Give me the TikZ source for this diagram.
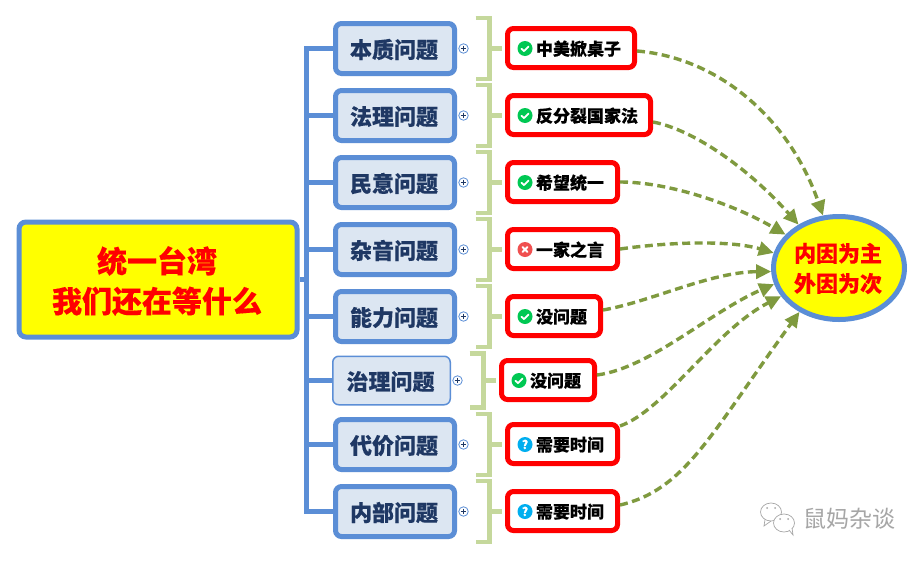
\documentclass[tikz,border=0pt]{standalone}
\usepackage{fontspec}
\setmainfont{Noto Sans CJK SC}[BoldFeatures={FakeBold=0.25}]
\usetikzlibrary{arrows.meta,shapes.geometric,calc}
\definecolor{frameblue}{HTML}{5B8ED6}
\definecolor{topicfill}{HTML}{DCE6F2}
\definecolor{topicink}{HTML}{1F3864}
\definecolor{brace}{HTML}{C5D89C}
\definecolor{olive}{HTML}{7F9A3F}
\definecolor{okgreen}{HTML}{00C853}
\definecolor{askblue}{HTML}{00AEEF}
\definecolor{badred}{HTML}{F05050}
\definecolor{wm}{HTML}{A6A6A6}
\definecolor{sun}{RGB}{255,255,0}
\definecolor{alarm}{RGB}{255,0,0}
\tikzset{
  rootbox/.style={draw=frameblue,fill=sun,line width=5,rounded corners=7,minimum width=278,minimum height=115,align=center,text=alarm,font=\fontsize{30}{40}\selectfont\bfseries,inner sep=0},
  topicbox/.style={draw=frameblue,fill=topicfill,line width=5,rounded corners=6,minimum width=119,minimum height=50,text=topicink,font=\fontsize{22}{26}\selectfont\bfseries,inner sep=0},
  thintopic/.style={topicbox,line width=1.5,minimum width=117.5,minimum height=48.5},
  redbox/.style={draw=alarm,fill=white,line width=5,rounded corners=6,minimum height=39,font=\fontsize{17}{20}\selectfont\bfseries,text=black,inner sep=0},
  causeoval/.style={ellipse,draw=frameblue,fill=sun,line width=5,minimum width=131,minimum height=103,align=center,text=alarm,font=\fontsize{22}{30}\selectfont\bfseries,inner sep=0},
  trunk/.style={draw=frameblue,line width=5},
  bracket/.style={draw=brace,line width=4.5},
  influence/.style={draw=olive,line width=3.4,dash pattern=on 8pt off 4.5pt,-{Triangle[length=15pt,width=14pt]}},
  expander/.style={circle,draw=frameblue,fill=white,line width=.8,minimum size=9.5,inner sep=0,
    path picture={\draw[topicink,line width=.8] ($(path picture bounding box.center)+(-2.8,0)$) -- ($(path picture bounding box.center)+(2.8,0)$)
      ($(path picture bounding box.center)+(0,-2.8)$) -- ($(path picture bounding box.center)+(0,2.8)$);}},
  okicon/.style={circle,fill=okgreen,minimum size=15,inner sep=0,
    path picture={\draw[white,line width=1.8,line cap=round,line join=round] ($(path picture bounding box.center)+(-3.6,.2)$) -- ($(path picture bounding box.center)+(-1,2.6)$) -- ($(path picture bounding box.center)+(3.6,-2)$);}},
  badicon/.style={circle,fill=badred,minimum size=15,inner sep=0,
    path picture={\draw[white,line width=1.8,line cap=round] ($(path picture bounding box.center)+(-2.6,-2.6)$) -- ($(path picture bounding box.center)+(2.6,2.6)$)
      ($(path picture bounding box.center)+(-2.6,2.6)$) -- ($(path picture bounding box.center)+(2.6,-2.6)$);}},
  askicon/.style={circle,fill=askblue,minimum size=15,inner sep=0,text=white,font=\fontsize{12}{12}\selectfont\bfseries},
}
\newcommand{\dn}[2]{\raisebox{-#1pt}[\height][\depth]{\hspace{-1pt}#2\hspace{1pt}}}
\newcommand{\leaftext}[3]{\raisebox{-.7pt}[\height][\depth]{\makebox[#1pt][l]{\hspace{#2pt}#3}}}
\begin{document}
\begin{tikzpicture}[x=1pt,y=-1pt]
\useasboundingbox (0,0) rectangle (924,560);
\fill[white] (0,0) rectangle (924,560);

% trunk and branches
\node[rootbox] (root) at (158,279.5) {\dn{1.5}{统一台湾}\\\dn{1.5}{我们还在等什么}};
\coordinate (spine) at (306,279.5);
\coordinate (spinetop) at (306,48.5);
\coordinate (spinebot) at (306,511.5);
\draw[trunk,line cap=rect] (spinetop) -- (spinebot);
\draw[trunk] (root.east) -- (spine);

% topic boxes
\node[topicbox] (t1) at (395,48.5) {\dn{1}{本质问题}};
\node[topicbox] (t2) at (395,115.5) {\dn{1}{法理问题}};
\node[topicbox] (t3) at (395,182.5) {\dn{1}{民意问题}};
\node[topicbox] (t4) at (395,249.5) {\dn{1}{杂音问题}};
\node[topicbox] (t5) at (395,316.5) {\dn{1}{能力问题}};
\node[thintopic] (t6) at (391.5,380.5) {\dn{1}{治理问题}};
\node[topicbox] (t7) at (395,444.5) {\dn{1}{代价问题}};
\node[topicbox] (t8) at (395,511.5) {\dn{1}{内部问题}};
\foreach \n in {1,...,8} \draw[trunk] (spine|-t\n.west) -- (t\n.west);

% expanders
\foreach \n in {1,...,8} \node[expander] (x\n) at ($(t\n.east)+(6.5,0)$) {};

% leaf boxes
\node[redbox] (r1) at (571,48)  {\leaftext{127}{28.5}{中美掀桌子}};
\node[redbox] (r2) at (579,115) {\leaftext{143}{28.5}{反分裂国家法}};
\node[redbox] (r3) at (562.5,182) {\leaftext{110}{28.5}{希望统一}};
\node[redbox] (r4) at (562.5,249) {\leaftext{110}{28.5}{一家之言}};
\node[redbox] (r5) at (554,316) {\leaftext{93}{28.5}{没问题}};
\node[redbox] (r6) at (548,380) {\leaftext{93}{28.5}{没问题}};
\node[redbox] (r7) at (562.5,444) {\leaftext{110}{28.5}{需要时间}};
\node[redbox] (r8) at (562.5,511) {\leaftext{110}{28.5}{需要时间}};

% brackets
\foreach \n/\h in {1/30.5,2/30.5,3/30.5,4/30.5,5/30.5,6/27,7/30.5,8/30.5}{
  \coordinate (btop\n) at ($(x\n.center)+(12,-\h)$);
  \coordinate (bbot\n) at ($(x\n.center)+(12,\h)$);
  \coordinate (bmid\n) at ($(x\n.center)+(26,0)$);
  \draw[bracket] (btop\n) -- ++(14,0) -- ($(bbot\n)+(14,0)$) -- (bbot\n);
  \draw[bracket] (bmid\n) -- ($(r\n.west|-bmid\n)+(-3,0)$);
}

% icons
\node[okicon] (i1) at ($(r1.west)+(20,.5)$) {};
\node[okicon] (i2) at ($(r2.west)+(20,.5)$) {};
\node[okicon] (i3) at ($(r3.west)+(20,.5)$) {};
\node[badicon] (i4) at ($(r4.west)+(20,.5)$) {};
\node[okicon] (i5) at ($(r5.west)+(20,.5)$) {};
\node[okicon] (i6) at ($(r6.west)+(20,.5)$) {};
\node[askicon] (i7) at ($(r7.west)+(20,.5)$) {?};
\node[askicon] (i8) at ($(r8.west)+(20,.5)$) {?};

% conclusion
\node[causeoval] (cause) at (839,268) {\dn{.5}{内因为主}\\\dn{.5}{外因为次}};

% influences
\draw[influence] ($(r1.east)+(0,3)$) .. controls (720,58) and (790,120) .. (cause.107);
\draw[influence] ($(r2.east)+(0,7)$) .. controls (695,130) and (750,170) .. (cause.133);
\draw[influence] (r3.east) .. controls (670,182) and (735,205) .. (cause.148);
\draw[influence] (r4.east) .. controls (670,242) and (730,240) .. (cause.167);
\draw[influence] ($(r5.east)+(0,-6)$) .. controls (650,302) and (710,272) .. (cause.183);
\draw[influence] ($(r6.east)+(0,-5)$) .. controls (650,368) and (710,312) .. (cause.194);
\draw[influence] ($(r7.east)+(0,-18)$) .. controls (665,410) and (715,330) .. (cause.206);
\draw[influence] ($(r8.east)+(0,-6)$) .. controls (685,490) and (710,435) .. (cause.228);

% watermark
\draw[wm,line width=.7,fill=white] (771,512) ellipse (10.5 and 9);
\draw[wm,line width=.7] (765,519.5) -- (764,526) -- (771,521);
\fill[wm] (767,508) circle (1) (775,508) circle (1);
\draw[wm,line width=.7,fill=white] (784,523) ellipse (10.5 and 9);
\draw[wm,line width=.7,fill=white] (789,530) -- (793,535) -- (792,528);
\fill[wm] (780,519) circle (1) (788,519) circle (1);
\node[text=wm,font=\fontsize{23}{26}\selectfont,inner sep=0] (mark) at (849,519) {鼠妈杂谈};
\end{tikzpicture}
\end{document}
